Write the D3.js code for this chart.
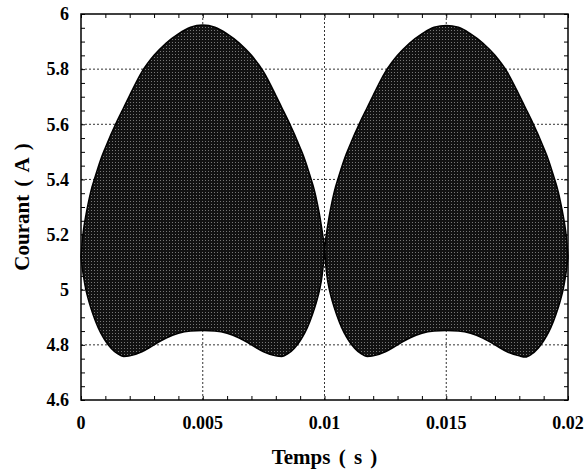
<!DOCTYPE html>
<html>
<head>
<meta charset="utf-8">
<script src="https://cdn.jsdelivr.net/npm/d3@7"></script>
<style>
  body { margin: 0; background: #fff; }
  text { font-family: "Liberation Serif", "Times New Roman", serif; font-weight: bold; }
</style>
</head>
<body>
<script>
// time samples (s) and the upper / lower envelope of the current (A)
var timeS = [
  0, 0.00005, 0.0001, 0.0002, 0.0003, 0.0004, 0.0006, 0.0008, 0.001, 0.0015, 0.00175,
  0.002, 0.0025, 0.003, 0.0035, 0.004, 0.0045, 0.005, 0.0055, 0.006, 0.0065, 0.007,
  0.0075, 0.008, 0.00825, 0.0085, 0.009, 0.0092, 0.0094, 0.0096, 0.0097, 0.0098,
  0.0099, 0.00995, 0.01,
  0.01005, 0.0101, 0.0102, 0.0103, 0.0104, 0.0106, 0.0108, 0.011, 0.0115, 0.01175,
  0.012, 0.0125, 0.013, 0.0135, 0.014, 0.0145, 0.015, 0.0155, 0.016, 0.0165, 0.017,
  0.0175, 0.018, 0.01825, 0.0185, 0.019, 0.0192, 0.0194, 0.0196, 0.0197, 0.0198,
  0.0199, 0.01995, 0.02
];
var upperA = [
  5.12, 5.175, 5.215, 5.27, 5.315, 5.355, 5.415, 5.47, 5.515, 5.615, 5.66,
  5.705, 5.79, 5.85, 5.895, 5.928, 5.952, 5.96, 5.952, 5.928, 5.895, 5.85,
  5.79, 5.705, 5.66, 5.615, 5.515, 5.47, 5.415, 5.355, 5.315, 5.27,
  5.215, 5.185, 5.15,
  5.185, 5.215, 5.27, 5.315, 5.355, 5.415, 5.47, 5.515, 5.615, 5.66,
  5.705, 5.79, 5.85, 5.895, 5.928, 5.952, 5.958, 5.952, 5.928, 5.895, 5.85,
  5.79, 5.705, 5.66, 5.615, 5.515, 5.47, 5.415, 5.355, 5.315, 5.27,
  5.215, 5.175, 5.12
];
var lowerA = [
  5.12, 5.08, 5.05, 5.00, 4.965, 4.935, 4.885, 4.845, 4.815, 4.768, 4.758,
  4.76, 4.775, 4.80, 4.825, 4.842, 4.85, 4.852, 4.85, 4.842, 4.825, 4.80,
  4.775, 4.76, 4.758, 4.768, 4.815, 4.845, 4.885, 4.935, 4.965, 5.00,
  5.05, 5.09, 5.15,
  5.09, 5.05, 5.00, 4.965, 4.935, 4.885, 4.845, 4.815, 4.768, 4.758,
  4.76, 4.775, 4.80, 4.825, 4.842, 4.85, 4.852, 4.85, 4.842, 4.825, 4.80,
  4.775, 4.76, 4.756, 4.766, 4.815, 4.845, 4.885, 4.935, 4.965, 5.00,
  5.05, 5.08, 5.12
];

// ticks
var xTicks = [0, 0.005, 0.01, 0.015, 0.02];
var xTickLabels = ["0", "0.005", "0.01", "0.015", "0.02"];
var yTicks = [4.6, 4.8, 5, 5.2, 5.4, 5.6, 5.8, 6];
var yTickLabels = ["4.6", "4.8", "5", "5.2", "5.4", "5.6", "5.8", "6"];

var data = timeS.map((t, i) => ({ t: t, hi: upperA[i], lo: lowerA[i] }));

var margin = { left: 81, right: 18, top: 14, bottom: 70 },
  width = 586 - margin.left - margin.right,
  height = 470 - margin.top - margin.bottom;

var svg = d3
  .select("body")
  .append("svg")
  .attr("width", 586)
  .attr("height", 470);

// speckled dark fill like the scanned plot
var defs = svg.append("defs");
var pat = defs
  .append("pattern")
  .attr("id", "speckle")
  .attr("width", 3)
  .attr("height", 3)
  .attr("patternUnits", "userSpaceOnUse");
pat.append("rect").attr("width", 3).attr("height", 3).attr("fill", "#121212");
pat.append("rect").attr("x", 1).attr("y", 1).attr("width", 1).attr("height", 1).attr("fill", "#777");

var g = svg
  .append("g")
  .attr("transform", "translate(" + margin.left + "," + margin.top + ")");

var xScale = d3.scaleLinear().domain([0, 0.02]).range([0, width]);
var yScale = d3.scaleLinear().domain([4.6, 6]).range([height, 0]);

// grid lines (dotted) at the inner major ticks
g.append("g")
  .selectAll("line")
  .data(xTicks.slice(1, -1))
  .enter()
  .append("line")
  .attr("x1", (d) => xScale(d))
  .attr("x2", (d) => xScale(d))
  .attr("y1", 0)
  .attr("y2", height)
  .attr("stroke", "#333")
  .attr("stroke-width", 1)
  .attr("stroke-dasharray", "2,2");
g.append("g")
  .selectAll("line")
  .data(yTicks.slice(1, -1))
  .enter()
  .append("line")
  .attr("x1", 0)
  .attr("x2", width)
  .attr("y1", (d) => yScale(d))
  .attr("y2", (d) => yScale(d))
  .attr("stroke", "#333")
  .attr("stroke-width", 1)
  .attr("stroke-dasharray", "2,2");

// the envelope
var area = d3
  .area()
  .x((d) => xScale(d.t))
  .y0((d) => yScale(d.lo))
  .y1((d) => yScale(d.hi))
  .curve(d3.curveMonotoneX);

g.append("path")
  .datum(data)
  .attr("d", area)
  .attr("fill", "url(#speckle)")
  .attr("stroke", "#000")
  .attr("stroke-width", 1.5);

// inward ticks on all four sides
var xMinor = d3.range(0, 21).map((i) => i * 0.001);
var yMinor = d3.range(0, 29).map((i) => 4.6 + i * 0.05);

function addAxis(axis, transform) {
  g.append("g")
    .attr("transform", transform)
    .call(axis)
    .call((s) => s.select(".domain").remove())
    .call((s) => s.selectAll("line").attr("stroke", "#000"));
}
addAxis(d3.axisBottom(xScale).tickValues(xMinor).tickSize(-4).tickFormat(""), "translate(0," + height + ")");
addAxis(d3.axisTop(xScale).tickValues(xMinor).tickSize(-4).tickFormat(""), "translate(0,0)");
addAxis(d3.axisLeft(yScale).tickValues(yMinor).tickSize(-4).tickFormat(""), "translate(0,0)");
addAxis(d3.axisRight(yScale).tickValues(yMinor).tickSize(-4).tickFormat(""), "translate(" + width + ",0)");

// frame
g.append("rect")
  .attr("width", width)
  .attr("height", height)
  .attr("fill", "none")
  .attr("stroke", "#000")
  .attr("stroke-width", 1.5);

// tick labels
g.append("g")
  .selectAll("text")
  .data(xTicks)
  .enter()
  .append("text")
  .attr("x", (d) => xScale(d))
  .attr("y", height + 29)
  .attr("text-anchor", "middle")
  .attr("font-size", "18px")
  .text((d, i) => xTickLabels[i]);
g.append("g")
  .selectAll("text")
  .data(yTicks)
  .enter()
  .append("text")
  .attr("x", -12)
  .attr("y", (d) => yScale(d))
  .attr("dy", "0.35em")
  .attr("text-anchor", "end")
  .attr("font-size", "18px")
  .text((d, i) => yTickLabels[i]);

// axis titles
svg.append("text")
  .attr("x", margin.left + width / 2)
  .attr("y", 464)
  .attr("text-anchor", "middle")
  .attr("font-size", "21px")
  .style("word-spacing", "3px")
  .text("Temps ( s )");
svg.append("text")
  .attr("transform", "translate(29," + (margin.top + height / 2) + ") rotate(-90)")
  .attr("text-anchor", "middle")
  .attr("font-size", "21px")
  .style("word-spacing", "3px")
  .text("Courant ( A )");
</script>
</body>
</html>
